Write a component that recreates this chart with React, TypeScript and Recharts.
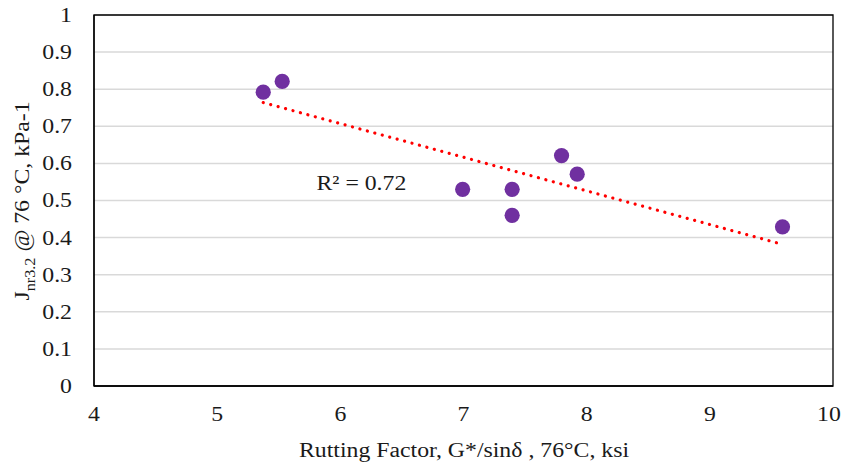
import React from 'react';
import { ScatterChart, Scatter, XAxis, YAxis, CartesianGrid, ReferenceLine, ReferenceArea, ReferenceDot } from 'recharts';

const rutFactor = [5.374, 5.528, 6.993, 7.395, 7.395, 7.796, 7.923, 9.59];
const jnr = [0.792, 0.821, 0.53, 0.53, 0.46, 0.621, 0.571, 0.429];
const trendX = [5.374, 9.576];
const trendY = [0.764, 0.383];
const xTicks = [4, 5, 6, 7, 8, 9, 10];
const yTicks = [0, 0.1, 0.2, 0.3, 0.4, 0.5, 0.6, 0.7, 0.8, 0.9, 1];
const r2Label = 'R² = 0.72';
const xTitle = 'Rutting Factor, G*/sinδ , 76°C, ksi';

const points = rutFactor.map((x, i) => ({ x, y: jnr[i] }));
const FONT = 'Liberation Serif, Times New Roman, serif';
const SX = 1.16;
const FS = 20.5;
const TXT = '#1a1a1a';
const tStyle = { fontFamily: FONT, fontSize: FS, fill: TXT } as any;

const XTick = (props: any) => {
  const { x, y, payload } = props;
  const shift = payload.value === 10 ? -4 : 0;
  return (
    <g transform={`translate(${x + shift},${y + 33}) scale(${SX},1)`}>
      <text x={0} y={0} textAnchor="middle" style={tStyle}>{payload.value}</text>
    </g>
  );
};

const YTick = (props: any) => {
  const { y, payload } = props;
  return (
    <g transform={`translate(72,${y}) scale(${SX},1)`}>
      <text x={0} y={0} textAnchor="end" dominantBaseline="central" style={tStyle}>{payload.value}</text>
    </g>
  );
};

const XTitle = () => (
  <g transform={`translate(464,457) scale(${SX},1)`}>
    <text x={0} y={0} textAnchor="middle" style={tStyle}>{xTitle}</text>
  </g>
);

const YTitle = () => (
  <g transform={`translate(29,201) rotate(-90) scale(${SX},1)`}>
    <text x={0} y={0} textAnchor="middle" style={tStyle}>
      <tspan>J</tspan>
      <tspan style={{ fontSize: 14 }} dy={6}>nr3.2</tspan>
      <tspan dy={-6}> @ 76 °C, kPa-1</tspan>
    </text>
  </g>
);

const R2 = (props: any) => {
  const vb = props.viewBox || {};
  return (
    <g transform={`translate(${vb.x},${vb.y}) scale(${SX},1)`}>
      <text x={0} y={0} textAnchor="middle" dominantBaseline="central" style={tStyle}>{r2Label}</text>
    </g>
  );
};

export default function App() {
  return (
    <div style={{ position: 'absolute', left: 0, top: 0, width: 847, height: 465, background: '#fff', fontFamily: FONT }}>
      <ScatterChart width={847} height={465} margin={{ top: 15, right: 14, bottom: 0, left: 34 }} style={{ fontFamily: FONT }}>
        <CartesianGrid horizontal vertical={false} stroke="#d9d9d9" strokeWidth={1.5} />
        <XAxis type="number" dataKey="x" domain={[4, 10]} ticks={xTicks} interval={0} height={79}
          axisLine={{ stroke: '#000', strokeWidth: 1.3 }} tickLine={false} tickSize={0}
          tick={<XTick />} label={<XTitle />} />
        <YAxis type="number" dataKey="y" domain={[0, 1]} ticks={yTicks} interval={0} width={60}
          axisLine={{ stroke: '#000', strokeWidth: 1.3 }} tickLine={false} tickSize={0}
          tick={<YTick />} label={<YTitle />} />
        <ReferenceArea x1={4} x2={10} y1={0} y2={1} fill="none" stroke="#000" strokeWidth={1.3} fillOpacity={0} />
        <ReferenceLine segment={[{ x: trendX[0], y: trendY[0] }, { x: trendX[1], y: trendY[1] }]}
          stroke="#ff0000" strokeWidth={3.2} strokeDasharray="0.01 7.7" strokeLinecap="round" />
        <Scatter data={points} fill="#7030a0" isAnimationActive={false}
          shape={(p: any) => <circle cx={p.cx} cy={p.cy} r={7.6} fill="#7030a0" />} />
        <ReferenceDot x={6.171} y={0.546} r={0} fill="none" stroke="none" label={<R2 />} />
      </ScatterChart>
    </div>
  );
}
